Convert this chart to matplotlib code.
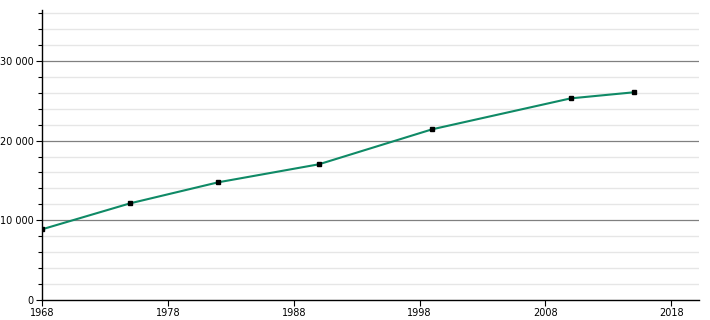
import matplotlib
matplotlib.use("Agg")
import matplotlib.pyplot as plt
from matplotlib.ticker import MultipleLocator, FuncFormatter

years = [1968, 1975, 1982, 1990, 1999, 2010, 2015]
population = [8870, 12130, 14770, 17030, 21420, 25300, 26060]
x_ticks = [1968, 1978, 1988, 1998, 2008, 2018]
y_ticks = [0, 10000, 20000, 30000]

fig = plt.figure(figsize=(7.1, 3.2), dpi=100)
ax = fig.add_axes([0.0592, 0.0625, 0.9253, 0.9065])

ax.set_xlim(1968, 2020.2)
ax.set_ylim(0, 36400)

for v in range(2000, 36001, 2000):
    if v % 10000 != 0:
        ax.axhline(v, color="#e6e6e6", lw=1.0, zorder=1)
for v in y_ticks[1:]:
    ax.axhline(v, color="#808080", lw=0.9, zorder=1)

ax.plot(years, population, color="#0f8a66", lw=1.5, zorder=3)
ax.plot(years, population, ls="none", marker="s", ms=3.0, color="black", zorder=4)

ax.set_xticks(x_ticks)
ax.set_yticks(y_ticks)
ax.yaxis.set_minor_locator(MultipleLocator(2000))
ax.yaxis.set_major_formatter(FuncFormatter(lambda v, p: f"{int(v):,}".replace(",", " ")))

for s in ["top", "right"]:
    ax.spines[s].set_visible(False)
ax.spines["left"].set_linewidth(1.0)
ax.spines["bottom"].set_linewidth(1.0)
ax.tick_params(axis="both", labelsize=7, length=4, width=0.8, pad=2, colors="black")
ax.tick_params(axis="y", which="minor", length=3, width=0.8)

fig.savefig("out.png", dpi=100, facecolor="white")
